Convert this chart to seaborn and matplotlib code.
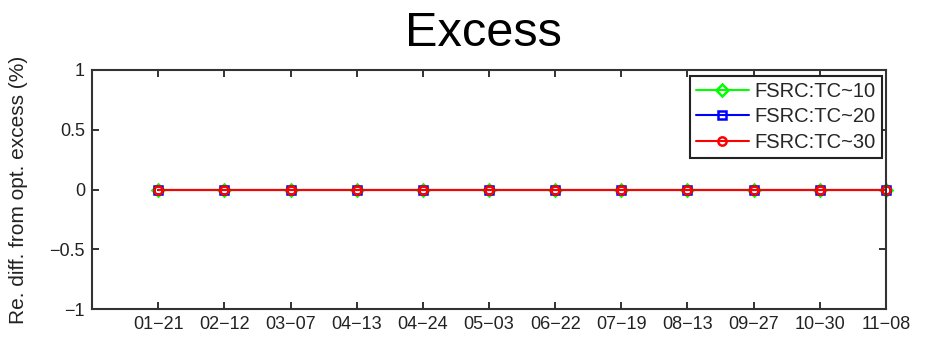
import matplotlib
matplotlib.use("Agg")
import matplotlib.pyplot as plt
import seaborn as sns
import pandas as pd

dates = ["01-21", "02-12", "03-07", "04-13", "04-24", "05-03",
         "06-22", "07-19", "08-13", "09-27", "10-30", "11-08"]
tc10 = [0, 0, 0, 0, 0, 0, 0, 0, 0, 0, 0, 0]
tc20 = [0, 0, 0, 0, 0, 0, 0, 0, 0, 0, 0, 0]
tc30 = [0, 0, 0, 0, 0, 0, 0, 0, 0, 0, 0, 0]
series_names = ["FSRC:TC~10", "FSRC:TC~20", "FSRC:TC~30"]
colors = ["#00ff00", "#0000ff", "#ff0000"]
marker_styles = ["D", "s", "o"]

sns.set_style("ticks")
plt.rcParams["font.family"] = ["Liberation Sans", "DejaVu Sans"]

fig = plt.figure(figsize=(9.36, 3.39), dpi=100)
ax = fig.add_axes([92 / 936, 1 - 309 / 339, (886 - 92) / 936, (309 - 70) / 339])

pos = list(range(1, len(dates) + 1))
for name, vals, c, m in zip(series_names, [tc10, tc20, tc30], colors, marker_styles):
    df = pd.DataFrame({"pos": pos, "value": vals})
    sns.lineplot(data=df, x="pos", y="value", ax=ax, color=c, label=name,
                 marker=m, markersize=6, markerfacecolor="none",
                 markeredgecolor=c, markeredgewidth=1.8, linewidth=1.5,
                 clip_on=False)

ax.set_xlim(0, 12)
ax.set_ylim(-1, 1)
ax.set_xticks(pos)
ax.set_xticklabels([d.replace("-", "\u2212") for d in dates], fontsize=13)
ax.set_yticks([-1, -0.5, 0, 0.5, 1])
ax.set_yticklabels(["\u22121", "\u22120.5", "0", "0.5", "1"], fontsize=13)
ax.tick_params(direction="in", top=True, right=True, length=5, width=1.3,
               colors="#222222", labelcolor="#222222", pad=5)
for s in ax.spines.values():
    s.set_visible(True)
    s.set_linewidth(1.5)
    s.set_color("#333333")
ax.set_xlabel("")
ax.set_ylabel("Re. diff. from opt. excess (%)", fontsize=15, color="#222222")
ax.yaxis.set_label_coords((28 - 92) / (886 - 92), 0.5)
fig.text(483 / 936, 1 - 33 / 339, "Excess", fontsize=35, ha="center", va="center", color="black")

leg = ax.legend(loc="upper right", bbox_to_anchor=(882 / 936, 1 - 76 / 339),
                bbox_transform=fig.transFigure, fontsize=14.5, frameon=True,
                fancybox=False, edgecolor="#222222", borderaxespad=0,
                handlelength=2.6, handletextpad=0.3, labelspacing=0.32,
                borderpad=0.3, framealpha=1)
leg.get_frame().set_linewidth(1.5)

fig.savefig("out.png", dpi=100)
